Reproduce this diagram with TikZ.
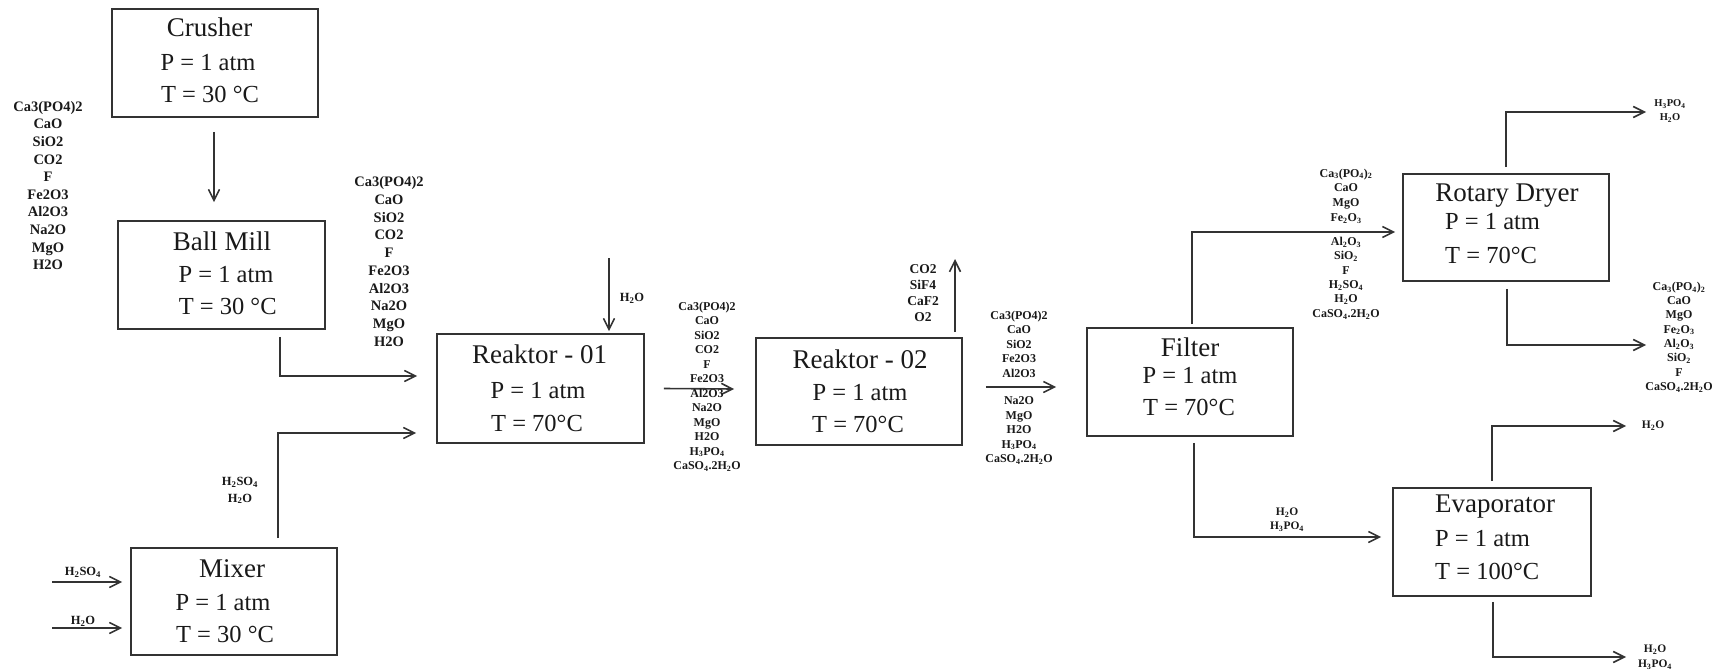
\documentclass[tikz,border=0pt]{standalone}
\usepackage{fontspec}
\setmainfont{Liberation Serif}
\usetikzlibrary{arrows.meta}
\newcommand{\chs}[1]{\textsubscript{#1}}
\begin{document}
\begin{tikzpicture}[x=1pt,y=-1pt,
 box/.style={draw=black!80,line width=1.7pt,inner sep=0,minimum width=206pt,minimum height=108pt},
 arr/.style={draw=black!80,line width=1.6pt,-{Straight Barb[length=11pt,width=11pt]}},
 ttl/.style={anchor=base,inner sep=0,font=\fontsize{27}{30}\selectfont,text=black!90},
 prm/.style={anchor=base,inner sep=0,font=\fontsize{24.5}{28}\selectfont,text=black!90},
 lblA/.style={align=center,inner sep=0,text=black!90,font=\fontsize{14.5}{17.6}\selectfont\bfseries},
 lblB/.style={align=center,inner sep=0,text=black!90,font=\fontsize{12}{14.5}\selectfont\bfseries},
 lblC/.style={align=center,inner sep=0,text=black!90,font=\fontsize{13.5}{16}\selectfont\bfseries},
 lblD/.style={align=center,inner sep=0,text=black!90,font=\fontsize{11.5}{15}\selectfont\bfseries}]
\useasboundingbox (0,0) rectangle (1727,672);
% boxes
\node[box] (crusher) at (215,63) {};
\node[box,minimum width=207pt] (ballmill) at (221.5,275) {};
\node[box,minimum height=107pt] (mixer) at (234,601.5) {};
\node[box,minimum width=207pt,minimum height=109pt] (r01) at (540.5,388.5) {};
\node[box,minimum height=107pt] (r02) at (859,391.5) {};
\node[box] (filter) at (1190,382) {};
\node[box,minimum height=107pt] (dryer) at (1506,227.5) {};
\node[box,minimum width=198pt] (evap) at (1492,542) {};
% box texts
\node[ttl] (crusherA) at (209.5,36) {Crusher};
\node[prm] (crusherB) at (208,70) {P = 1 atm};
\node[prm] (crusherC) at (210,102) {T = 30 °C};
\node[ttl] (ballmillA) at (222,250) {Ball Mill};
\node[prm] (ballmillB) at (226,282) {P = 1 atm};
\node[prm] (ballmillC) at (227.7,314) {T = 30 °C};
\node[ttl] (mixerA) at (232,577) {Mixer};
\node[prm] (mixerB) at (223,610) {P = 1 atm};
\node[prm] (mixerC) at (225,642) {T = 30 °C};
\node[ttl] (r01A) at (539.7,363) {Reaktor - 01};
\node[prm] (r01B) at (538,398) {P = 1 atm};
\node[prm] (r01C) at (537,431) {T = 70°C};
\node[ttl] (r02A) at (860,368) {Reaktor - 02};
\node[prm] (r02B) at (860,400) {P = 1 atm};
\node[prm] (r02C) at (858,432) {T = 70°C};
\node[ttl] (filterA) at (1190,356) {Filter};
\node[prm] (filterB) at (1190,383) {P = 1 atm};
\node[prm] (filterC) at (1189,415) {T = 70°C};
\node[ttl] (dryerA) at (1507,201) {Rotary Dryer};
\node[prm,anchor=base west] (dryerB) at (1445,229) {P = 1 atm};
\node[prm,anchor=base west] (dryerC) at (1445,263) {T = 70°C};
\node[ttl,anchor=base west] (evapA) at (1435,512) {Evaporator};
\node[prm,anchor=base west] (evapB) at (1435,546) {P = 1 atm};
\node[prm,anchor=base west] (evapC) at (1435,579) {T = 100°C};
% free ends
\coordinate (inA) at (52,582);
\coordinate (inB) at (52,628);
\coordinate (w1) at (609,258);
\coordinate (g1) at (955,259);
\coordinate (d1) at (1646,112);
\coordinate (d2) at (1646,345);
\coordinate (e1) at (1626,426);
\coordinate (e2) at (1626,657);
% connectors
\draw[arr] ([xshift=-1pt,yshift=-14pt]crusher.south) -- ([xshift=-7.5pt,yshift=18pt]ballmill.north);
\draw[arr] ([xshift=58.5pt,yshift=-7pt]ballmill.south) |- ([xshift=-19pt,yshift=12.5pt]r01.west);
\draw[arr] ([xshift=44pt,yshift=9pt]mixer.north) |- ([xshift=-20pt,yshift=-44.5pt]r01.west);
\draw[arr] (inA) -- ([xshift=-8pt,yshift=19.5pt]mixer.west);
\draw[arr] (inB) -- ([xshift=-8pt,yshift=-26.5pt]mixer.west);
\draw[arr] (w1) -- ([xshift=68.5pt,yshift=2pt]r01.north);
\draw[arr] ([xshift=19pt]r01.east) -- ([xshift=-21pt,yshift=2.5pt]r02.west);
\draw[arr] ([xshift=96pt,yshift=5pt]r02.north) -- (g1);
\draw[arr] ([xshift=23pt,yshift=4.5pt]r02.east) -- ([xshift=-30pt,yshift=-5pt]filter.west);
\draw[arr] ([xshift=2pt,yshift=3pt]filter.north) |- ([xshift=-7pt,yshift=-4.5pt]dryer.west);
\draw[arr] ([xshift=4pt,yshift=-6pt]filter.south) |- ([xshift=-11pt,yshift=5pt]evap.west);
\draw[arr] ([yshift=6pt]dryer.north) |- (d1);
\draw[arr] ([xshift=1pt,yshift=-7pt]dryer.south) |- (d2);
\draw[arr] ([yshift=6pt]evap.north) |- (e1);
\draw[arr] ([xshift=1pt,yshift=-5pt]evap.south) |- (e2);
% stream labels
\node[lblA] (s1) at (48,185.5) {Ca3(PO4)2\\CaO\\SiO2\\CO2\\F\\Fe2O3\\Al2O3\\Na2O\\MgO\\H2O};
\node[lblA,font=\fontsize{14.5}{17.7}\selectfont\bfseries] (s2) at (389,261.5) {Ca3(PO4)2\\CaO\\SiO2\\CO2\\F\\Fe2O3\\Al2O3\\Na2O\\MgO\\H2O};
\node[lblB] (s3) at (707,386.5) {Ca3(PO4)2\\CaO\\SiO2\\CO2\\F\\Fe2O3\\Al2O3\\Na2O\\MgO\\H2O\\H\chs{3}PO\chs{4}\\CaSO\chs{4}.2H\chs{2}O};
\node[lblC] (s4) at (923,293) {CO2\\SiF4\\CaF2\\O2};
\node[lblB] (s5) at (1019,344) {Ca3(PO4)2\\CaO\\SiO2\\Fe2O3\\Al2O3};
\node[lblB] (s6) at (1019,430.5) {Na2O\\MgO\\H2O\\H\chs{3}PO\chs{4}\\CaSO\chs{4}.2H\chs{2}O};
\node[lblB,font=\fontsize{12}{14.7}\selectfont\bfseries] (s7) at (1346,196) {Ca\chs{3}(PO\chs{4})\chs{2}\\CaO\\MgO\\Fe\chs{2}O\chs{3}};
\node[lblB,font=\fontsize{12}{14.4}\selectfont\bfseries] (s8) at (1346,278) {Al\chs{2}O\chs{3}\\SiO\chs{2}\\F\\H\chs{2}SO\chs{4}\\H\chs{2}O\\CaSO\chs{4}.2H\chs{2}O};
\node[lblD,font=\fontsize{10.5}{14}\selectfont\bfseries] (s9) at (1670,111) {H\chs{3}PO\chs{4}\\H\chs{2}O};
\node[lblB,font=\fontsize{12}{14.3}\selectfont\bfseries] (s10) at (1679,337) {Ca\chs{3}(PO\chs{4})\chs{2}\\CaO\\MgO\\Fe\chs{2}O\chs{3}\\Al\chs{2}O\chs{3}\\SiO\chs{2}\\F\\CaSO\chs{4}.2H\chs{2}O};
\node[lblD] (s11) at (1653,426) {H\chs{2}O};
\node[lblD] (s12) at (1655,657.5) {H\chs{2}O\\H\chs{3}PO\chs{4}};
\node[lblD,font=\fontsize{11.5}{14}\selectfont\bfseries] (s13) at (1287,520) {H\chs{2}O\\H\chs{3}PO\chs{4}};
\node[lblD,font=\fontsize{12.5}{14}\selectfont\bfseries] (s14) at (83,572) {H\chs{2}SO\chs{4}};
\node[lblD,font=\fontsize{12.5}{14}\selectfont\bfseries] (s15) at (83,621) {H\chs{2}O};
\node[lblD,font=\fontsize{12.5}{16.7}\selectfont\bfseries] (s16) at (240,490.5) {H\chs{2}SO\chs{4}\\H\chs{2}O};
\node[lblD,font=\fontsize{12.5}{15}\selectfont\bfseries] (s17) at (632,298) {H\chs{2}O};
\end{tikzpicture}
\end{document}
